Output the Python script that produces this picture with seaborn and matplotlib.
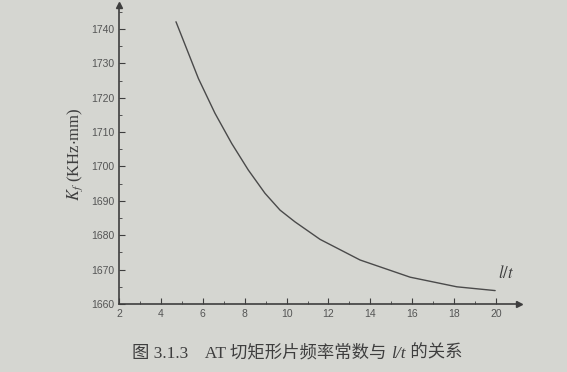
import matplotlib
matplotlib.use("Agg")
import matplotlib.pyplot as plt
import seaborn as sns
import pandas as pd
from matplotlib.ticker import MultipleLocator
from matplotlib.offsetbox import TextArea, HPacker, AnnotationBbox

# Data
lt_ratio = [4.72, 5.79, 6.58, 7.38, 8.17, 8.97, 9.69, 10.40, 11.60,
            13.51, 15.90, 18.13, 19.96]
kf_value = [1742.1, 1725.6, 1715.5, 1706.7, 1699.0, 1692.2, 1687.3, 1683.9, 1678.8,
            1672.8, 1667.8, 1665.0, 1663.9]
x_ticks = [2, 4, 6, 8, 10, 12, 14, 16, 18, 20]
y_ticks = [1660, 1670, 1680, 1690, 1700, 1710, 1720, 1730, 1740]

df = pd.DataFrame({"lt": lt_ratio, "kf": kf_value})

sns.set_theme(style="ticks")
plt.rcParams["mathtext.fontset"] = "stix"
bg = "#d5d6d1"
ink = "#3e3e3e"

fig = plt.figure(figsize=(5.67, 3.72), dpi=100, facecolor=bg)
ax = fig.add_axes([0.2099, 0.1828, 0.7055, 0.804])
ax.set_facecolor(bg)

sns.lineplot(data=df, x="lt", y="kf", ax=ax, color="#4a4a4a", linewidth=1.0)

ax.set_xlim(2, 21.1)
ax.set_ylim(1660, 1747)
ax.set_xticks(x_ticks)
ax.set_yticks(y_ticks)
ax.xaxis.set_minor_locator(MultipleLocator(1))
ax.yaxis.set_minor_locator(MultipleLocator(5))
ax.tick_params(axis="both", which="major", direction="in", length=4, width=0.8,
               colors=ink, labelsize=7.5, labelcolor="#555555")
ax.tick_params(axis="both", which="minor", direction="in", length=2, width=0.6, colors=ink)
for lab in ax.get_xticklabels() + ax.get_yticklabels():
    lab.set_fontfamily("Liberation Sans")

for s in ["top", "right"]:
    ax.spines[s].set_visible(False)
for s in ["left", "bottom"]:
    ax.spines[s].set_color(ink)
    ax.spines[s].set_linewidth(1.2)

# axis arrows
ax.plot(1, 0, marker=">", color=ink, markersize=4, transform=ax.transAxes, clip_on=False)
ax.plot(0, 1, marker="^", color=ink, markersize=4, transform=ax.transAxes, clip_on=False)

ax.set_xlabel("")
ax.set_ylabel(r"$K_f$ (KHz$\cdot$mm)", fontsize=12, color=ink, labelpad=4,
              fontfamily="Liberation Serif")

ax.text(20.5, 1669, r"$l/t$", fontsize=12, color=ink, ha="center", va="center")

# caption with italic l/t
fams = ["Liberation Serif", "Noto Sans CJK SC"]
cap_parts = [
    TextArea("图 3.1.3    AT 切矩形片频率常数与 ",
             textprops=dict(fontsize=12.5, color=ink, family=fams)),
    TextArea("l/t", textprops=dict(fontsize=12.5, color=ink, family="Liberation Serif",
                                   style="italic")),
    TextArea(" 的关系", textprops=dict(fontsize=12.5, color=ink, family=fams)),
]
packed = HPacker(children=cap_parts, align="baseline", pad=0, sep=0)
ab = AnnotationBbox(packed, (0.524, 0.05), xycoords="figure fraction",
                    frameon=False, box_alignment=(0.5, 0.5), annotation_clip=False)
fig.add_artist(ab)

fig.savefig("out.png", dpi=100, facecolor=bg)
